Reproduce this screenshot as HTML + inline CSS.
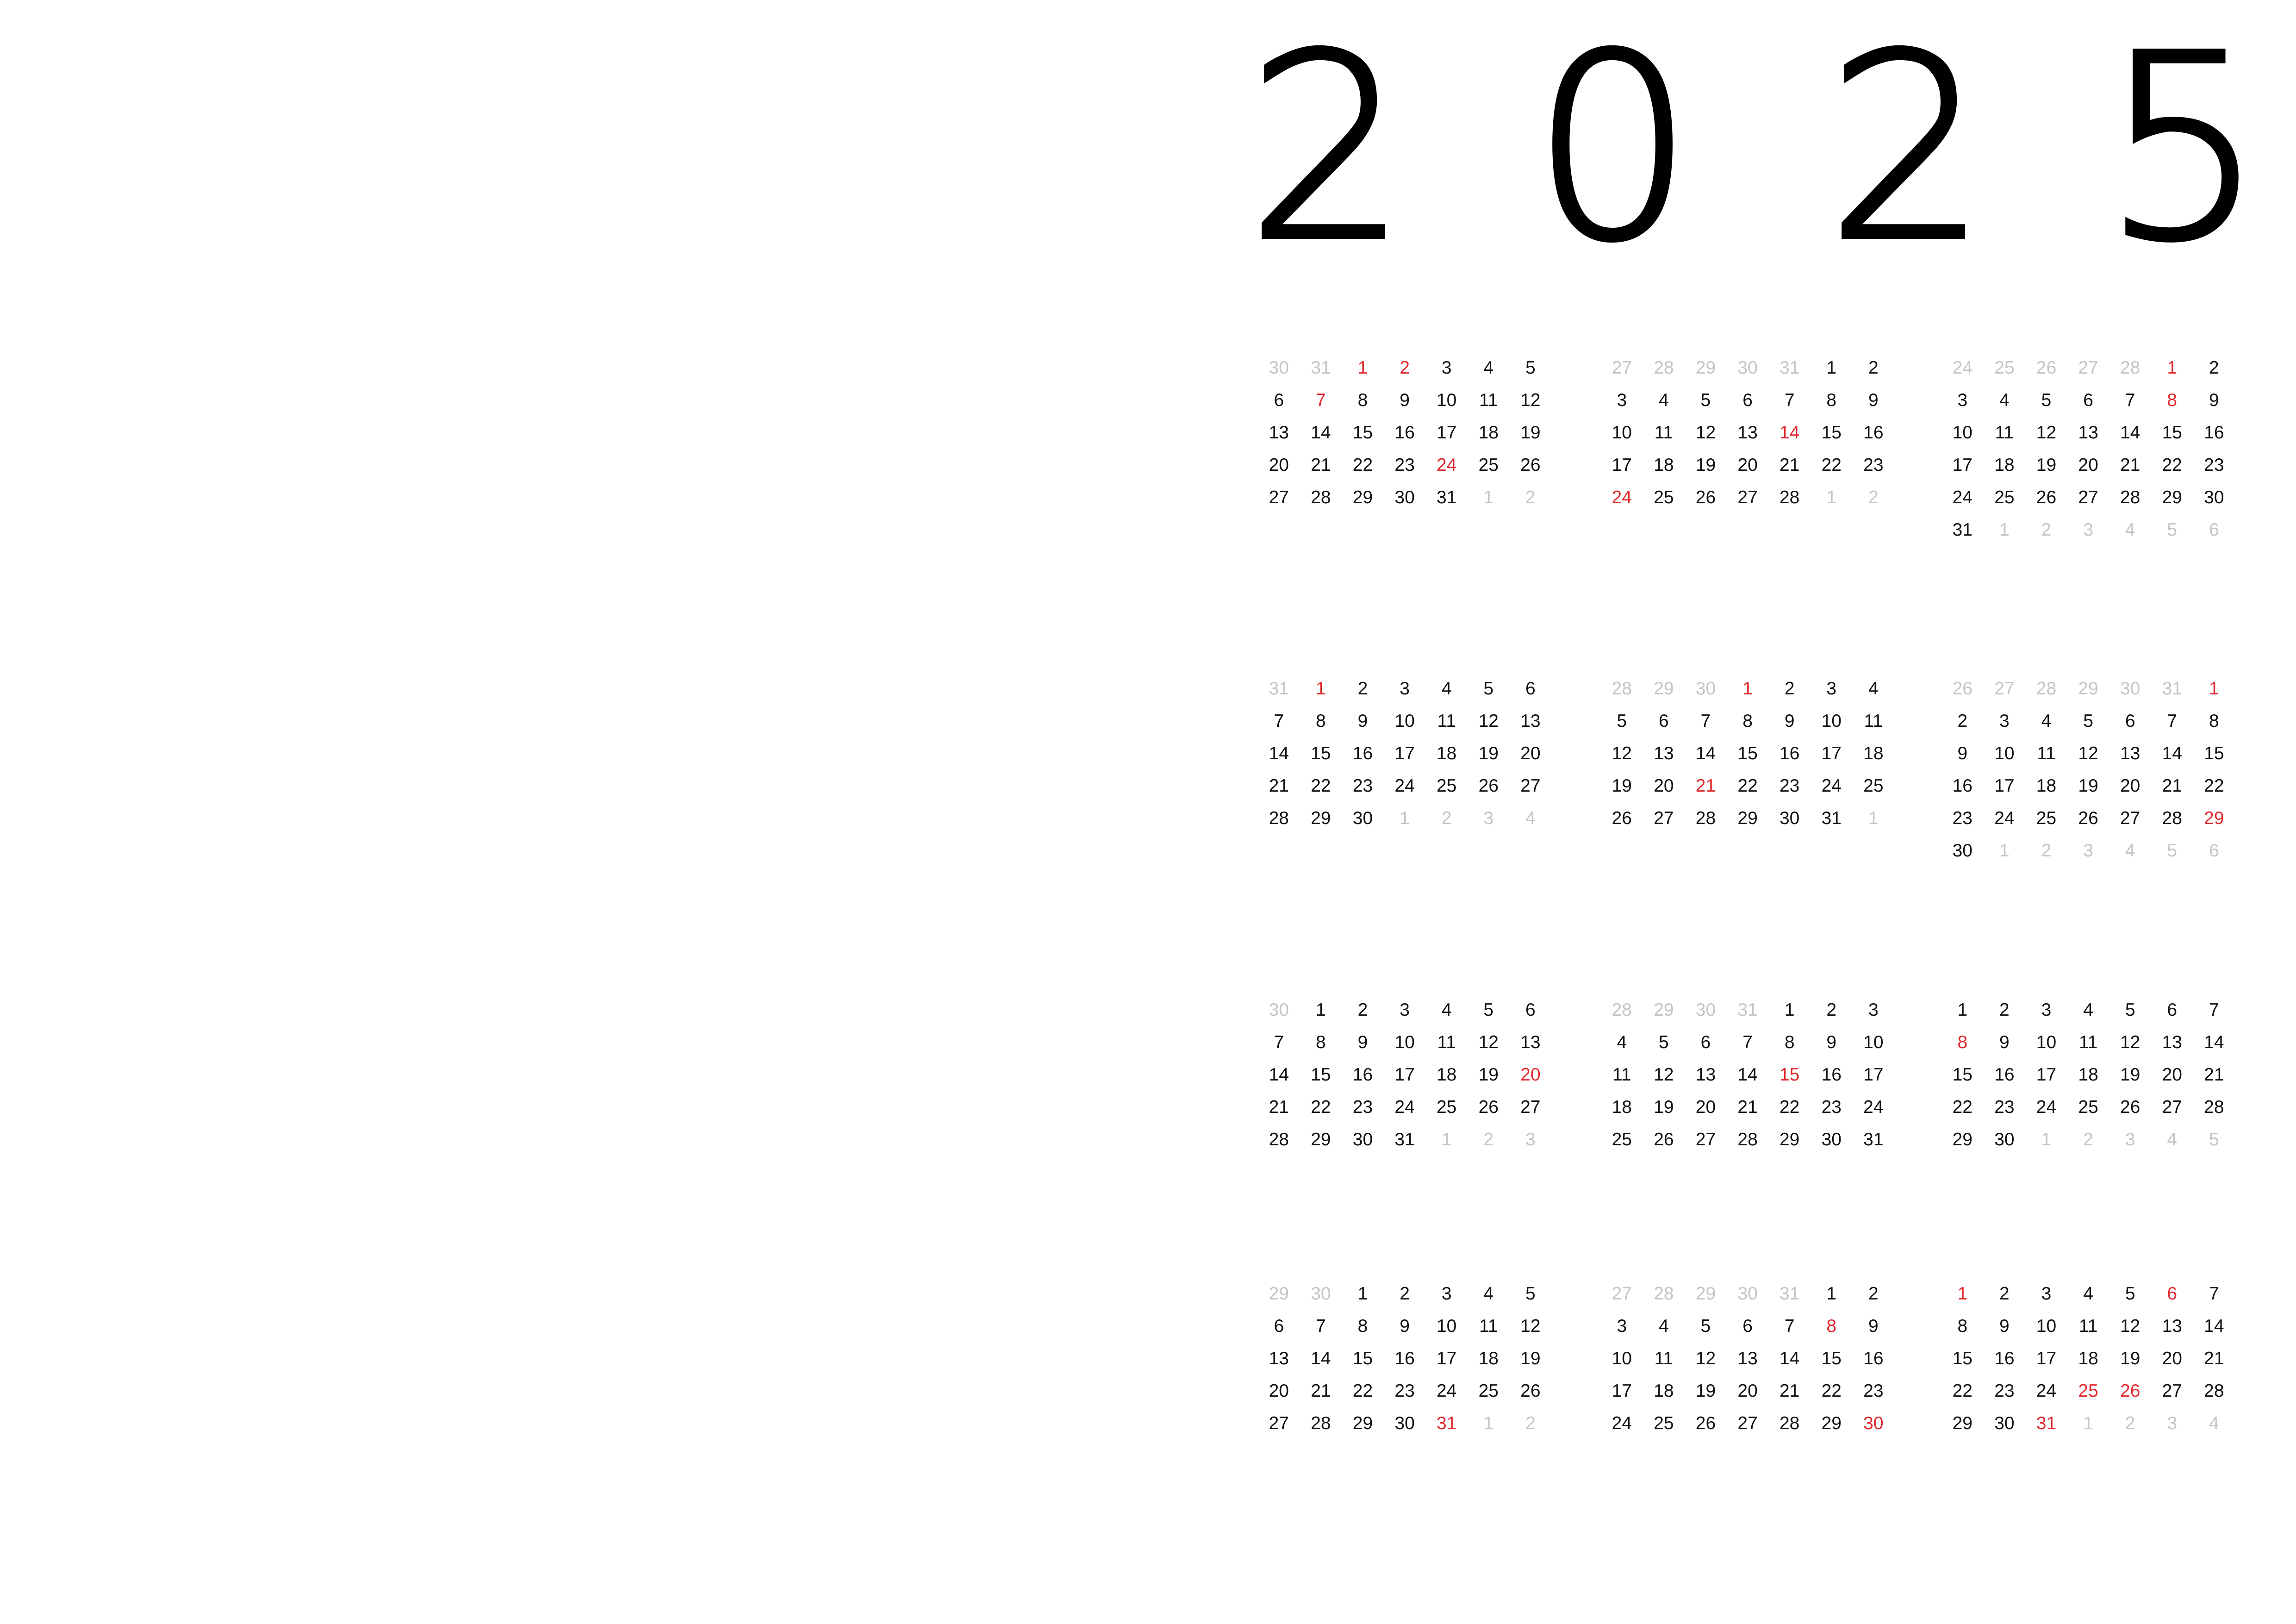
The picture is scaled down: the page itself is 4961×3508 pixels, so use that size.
<!DOCTYPE html>
<html><head><meta charset="utf-8">
<style>
html,body{margin:0;padding:0;background:#fff;}
body{width:4961px;height:3508px;position:relative;overflow:hidden;font-family:"Liberation Sans",sans-serif;}
.m{position:absolute;width:634px;display:grid;grid-template-columns:repeat(7,90.6px);grid-auto-rows:70px;font-size:39px;line-height:70px;color:#111;}
.m span{text-align:center;display:block;}
.g{color:#c4c4c4;}
.r{color:#e0282e;}
svg{position:absolute;left:0;top:0;}
</style></head><body>
<svg width="4961" height="700" viewBox="0 0 4961 700">
<g font-family="DejaVu Sans, Liberation Sans, sans-serif" font-weight="200" font-size="550" fill="#000" stroke="#000" stroke-width="10" text-anchor="middle">
<text x="2868" y="511">2</text>
<text x="3485" y="511">0</text>
<text x="4121" y="511">2</text>
<text x="4718" y="511">5</text>
</g>
</svg>

<!-- Row 1 -->
<div class="m" style="left:2718px;top:760px">
<span class="g">30</span><span class="g">31</span><span class="r">1</span><span class="r">2</span><span>3</span><span>4</span><span>5</span>
<span>6</span><span class="r">7</span><span>8</span><span>9</span><span>10</span><span>11</span><span>12</span>
<span>13</span><span>14</span><span>15</span><span>16</span><span>17</span><span>18</span><span>19</span>
<span>20</span><span>21</span><span>22</span><span>23</span><span class="r">24</span><span>25</span><span>26</span>
<span>27</span><span>28</span><span>29</span><span>30</span><span>31</span><span class="g">1</span><span class="g">2</span>
</div>
<div class="m" style="left:3459px;top:760px">
<span class="g">27</span><span class="g">28</span><span class="g">29</span><span class="g">30</span><span class="g">31</span><span>1</span><span>2</span>
<span>3</span><span>4</span><span>5</span><span>6</span><span>7</span><span>8</span><span>9</span>
<span>10</span><span>11</span><span>12</span><span>13</span><span class="r">14</span><span>15</span><span>16</span>
<span>17</span><span>18</span><span>19</span><span>20</span><span>21</span><span>22</span><span>23</span>
<span class="r">24</span><span>25</span><span>26</span><span>27</span><span>28</span><span class="g">1</span><span class="g">2</span>
</div>
<div class="m" style="left:4195px;top:760px">
<span class="g">24</span><span class="g">25</span><span class="g">26</span><span class="g">27</span><span class="g">28</span><span class="r">1</span><span>2</span>
<span>3</span><span>4</span><span>5</span><span>6</span><span>7</span><span class="r">8</span><span>9</span>
<span>10</span><span>11</span><span>12</span><span>13</span><span>14</span><span>15</span><span>16</span>
<span>17</span><span>18</span><span>19</span><span>20</span><span>21</span><span>22</span><span>23</span>
<span>24</span><span>25</span><span>26</span><span>27</span><span>28</span><span>29</span><span>30</span>
<span>31</span><span class="g">1</span><span class="g">2</span><span class="g">3</span><span class="g">4</span><span class="g">5</span><span class="g">6</span>
</div>

<!-- Row 2 -->
<div class="m" style="left:2718px;top:1453px">
<span class="g">31</span><span class="r">1</span><span>2</span><span>3</span><span>4</span><span>5</span><span>6</span>
<span>7</span><span>8</span><span>9</span><span>10</span><span>11</span><span>12</span><span>13</span>
<span>14</span><span>15</span><span>16</span><span>17</span><span>18</span><span>19</span><span>20</span>
<span>21</span><span>22</span><span>23</span><span>24</span><span>25</span><span>26</span><span>27</span>
<span>28</span><span>29</span><span>30</span><span class="g">1</span><span class="g">2</span><span class="g">3</span><span class="g">4</span>
</div>
<div class="m" style="left:3459px;top:1453px">
<span class="g">28</span><span class="g">29</span><span class="g">30</span><span class="r">1</span><span>2</span><span>3</span><span>4</span>
<span>5</span><span>6</span><span>7</span><span>8</span><span>9</span><span>10</span><span>11</span>
<span>12</span><span>13</span><span>14</span><span>15</span><span>16</span><span>17</span><span>18</span>
<span>19</span><span>20</span><span class="r">21</span><span>22</span><span>23</span><span>24</span><span>25</span>
<span>26</span><span>27</span><span>28</span><span>29</span><span>30</span><span>31</span><span class="g">1</span>
</div>
<div class="m" style="left:4195px;top:1453px">
<span class="g">26</span><span class="g">27</span><span class="g">28</span><span class="g">29</span><span class="g">30</span><span class="g">31</span><span class="r">1</span>
<span>2</span><span>3</span><span>4</span><span>5</span><span>6</span><span>7</span><span>8</span>
<span>9</span><span>10</span><span>11</span><span>12</span><span>13</span><span>14</span><span>15</span>
<span>16</span><span>17</span><span>18</span><span>19</span><span>20</span><span>21</span><span>22</span>
<span>23</span><span>24</span><span>25</span><span>26</span><span>27</span><span>28</span><span class="r">29</span>
<span>30</span><span class="g">1</span><span class="g">2</span><span class="g">3</span><span class="g">4</span><span class="g">5</span><span class="g">6</span>
</div>

<!-- Row 3 -->
<div class="m" style="left:2718px;top:2147px">
<span class="g">30</span><span>1</span><span>2</span><span>3</span><span>4</span><span>5</span><span>6</span>
<span>7</span><span>8</span><span>9</span><span>10</span><span>11</span><span>12</span><span>13</span>
<span>14</span><span>15</span><span>16</span><span>17</span><span>18</span><span>19</span><span class="r">20</span>
<span>21</span><span>22</span><span>23</span><span>24</span><span>25</span><span>26</span><span>27</span>
<span>28</span><span>29</span><span>30</span><span>31</span><span class="g">1</span><span class="g">2</span><span class="g">3</span>
</div>
<div class="m" style="left:3459px;top:2147px">
<span class="g">28</span><span class="g">29</span><span class="g">30</span><span class="g">31</span><span>1</span><span>2</span><span>3</span>
<span>4</span><span>5</span><span>6</span><span>7</span><span>8</span><span>9</span><span>10</span>
<span>11</span><span>12</span><span>13</span><span>14</span><span class="r">15</span><span>16</span><span>17</span>
<span>18</span><span>19</span><span>20</span><span>21</span><span>22</span><span>23</span><span>24</span>
<span>25</span><span>26</span><span>27</span><span>28</span><span>29</span><span>30</span><span>31</span>
</div>
<div class="m" style="left:4195px;top:2147px">
<span>1</span><span>2</span><span>3</span><span>4</span><span>5</span><span>6</span><span>7</span>
<span class="r">8</span><span>9</span><span>10</span><span>11</span><span>12</span><span>13</span><span>14</span>
<span>15</span><span>16</span><span>17</span><span>18</span><span>19</span><span>20</span><span>21</span>
<span>22</span><span>23</span><span>24</span><span>25</span><span>26</span><span>27</span><span>28</span>
<span>29</span><span>30</span><span class="g">1</span><span class="g">2</span><span class="g">3</span><span class="g">4</span><span class="g">5</span>
</div>

<!-- Row 4 -->
<div class="m" style="left:2718px;top:2760px">
<span class="g">29</span><span class="g">30</span><span>1</span><span>2</span><span>3</span><span>4</span><span>5</span>
<span>6</span><span>7</span><span>8</span><span>9</span><span>10</span><span>11</span><span>12</span>
<span>13</span><span>14</span><span>15</span><span>16</span><span>17</span><span>18</span><span>19</span>
<span>20</span><span>21</span><span>22</span><span>23</span><span>24</span><span>25</span><span>26</span>
<span>27</span><span>28</span><span>29</span><span>30</span><span class="r">31</span><span class="g">1</span><span class="g">2</span>
</div>
<div class="m" style="left:3459px;top:2760px">
<span class="g">27</span><span class="g">28</span><span class="g">29</span><span class="g">30</span><span class="g">31</span><span>1</span><span>2</span>
<span>3</span><span>4</span><span>5</span><span>6</span><span>7</span><span class="r">8</span><span>9</span>
<span>10</span><span>11</span><span>12</span><span>13</span><span>14</span><span>15</span><span>16</span>
<span>17</span><span>18</span><span>19</span><span>20</span><span>21</span><span>22</span><span>23</span>
<span>24</span><span>25</span><span>26</span><span>27</span><span>28</span><span>29</span><span class="r">30</span>
</div>
<div class="m" style="left:4195px;top:2760px">
<span class="r">1</span><span>2</span><span>3</span><span>4</span><span>5</span><span class="r">6</span><span>7</span>
<span>8</span><span>9</span><span>10</span><span>11</span><span>12</span><span>13</span><span>14</span>
<span>15</span><span>16</span><span>17</span><span>18</span><span>19</span><span>20</span><span>21</span>
<span>22</span><span>23</span><span>24</span><span class="r">25</span><span class="r">26</span><span>27</span><span>28</span>
<span>29</span><span>30</span><span class="r">31</span><span class="g">1</span><span class="g">2</span><span class="g">3</span><span class="g">4</span>
</div>
</body></html>
